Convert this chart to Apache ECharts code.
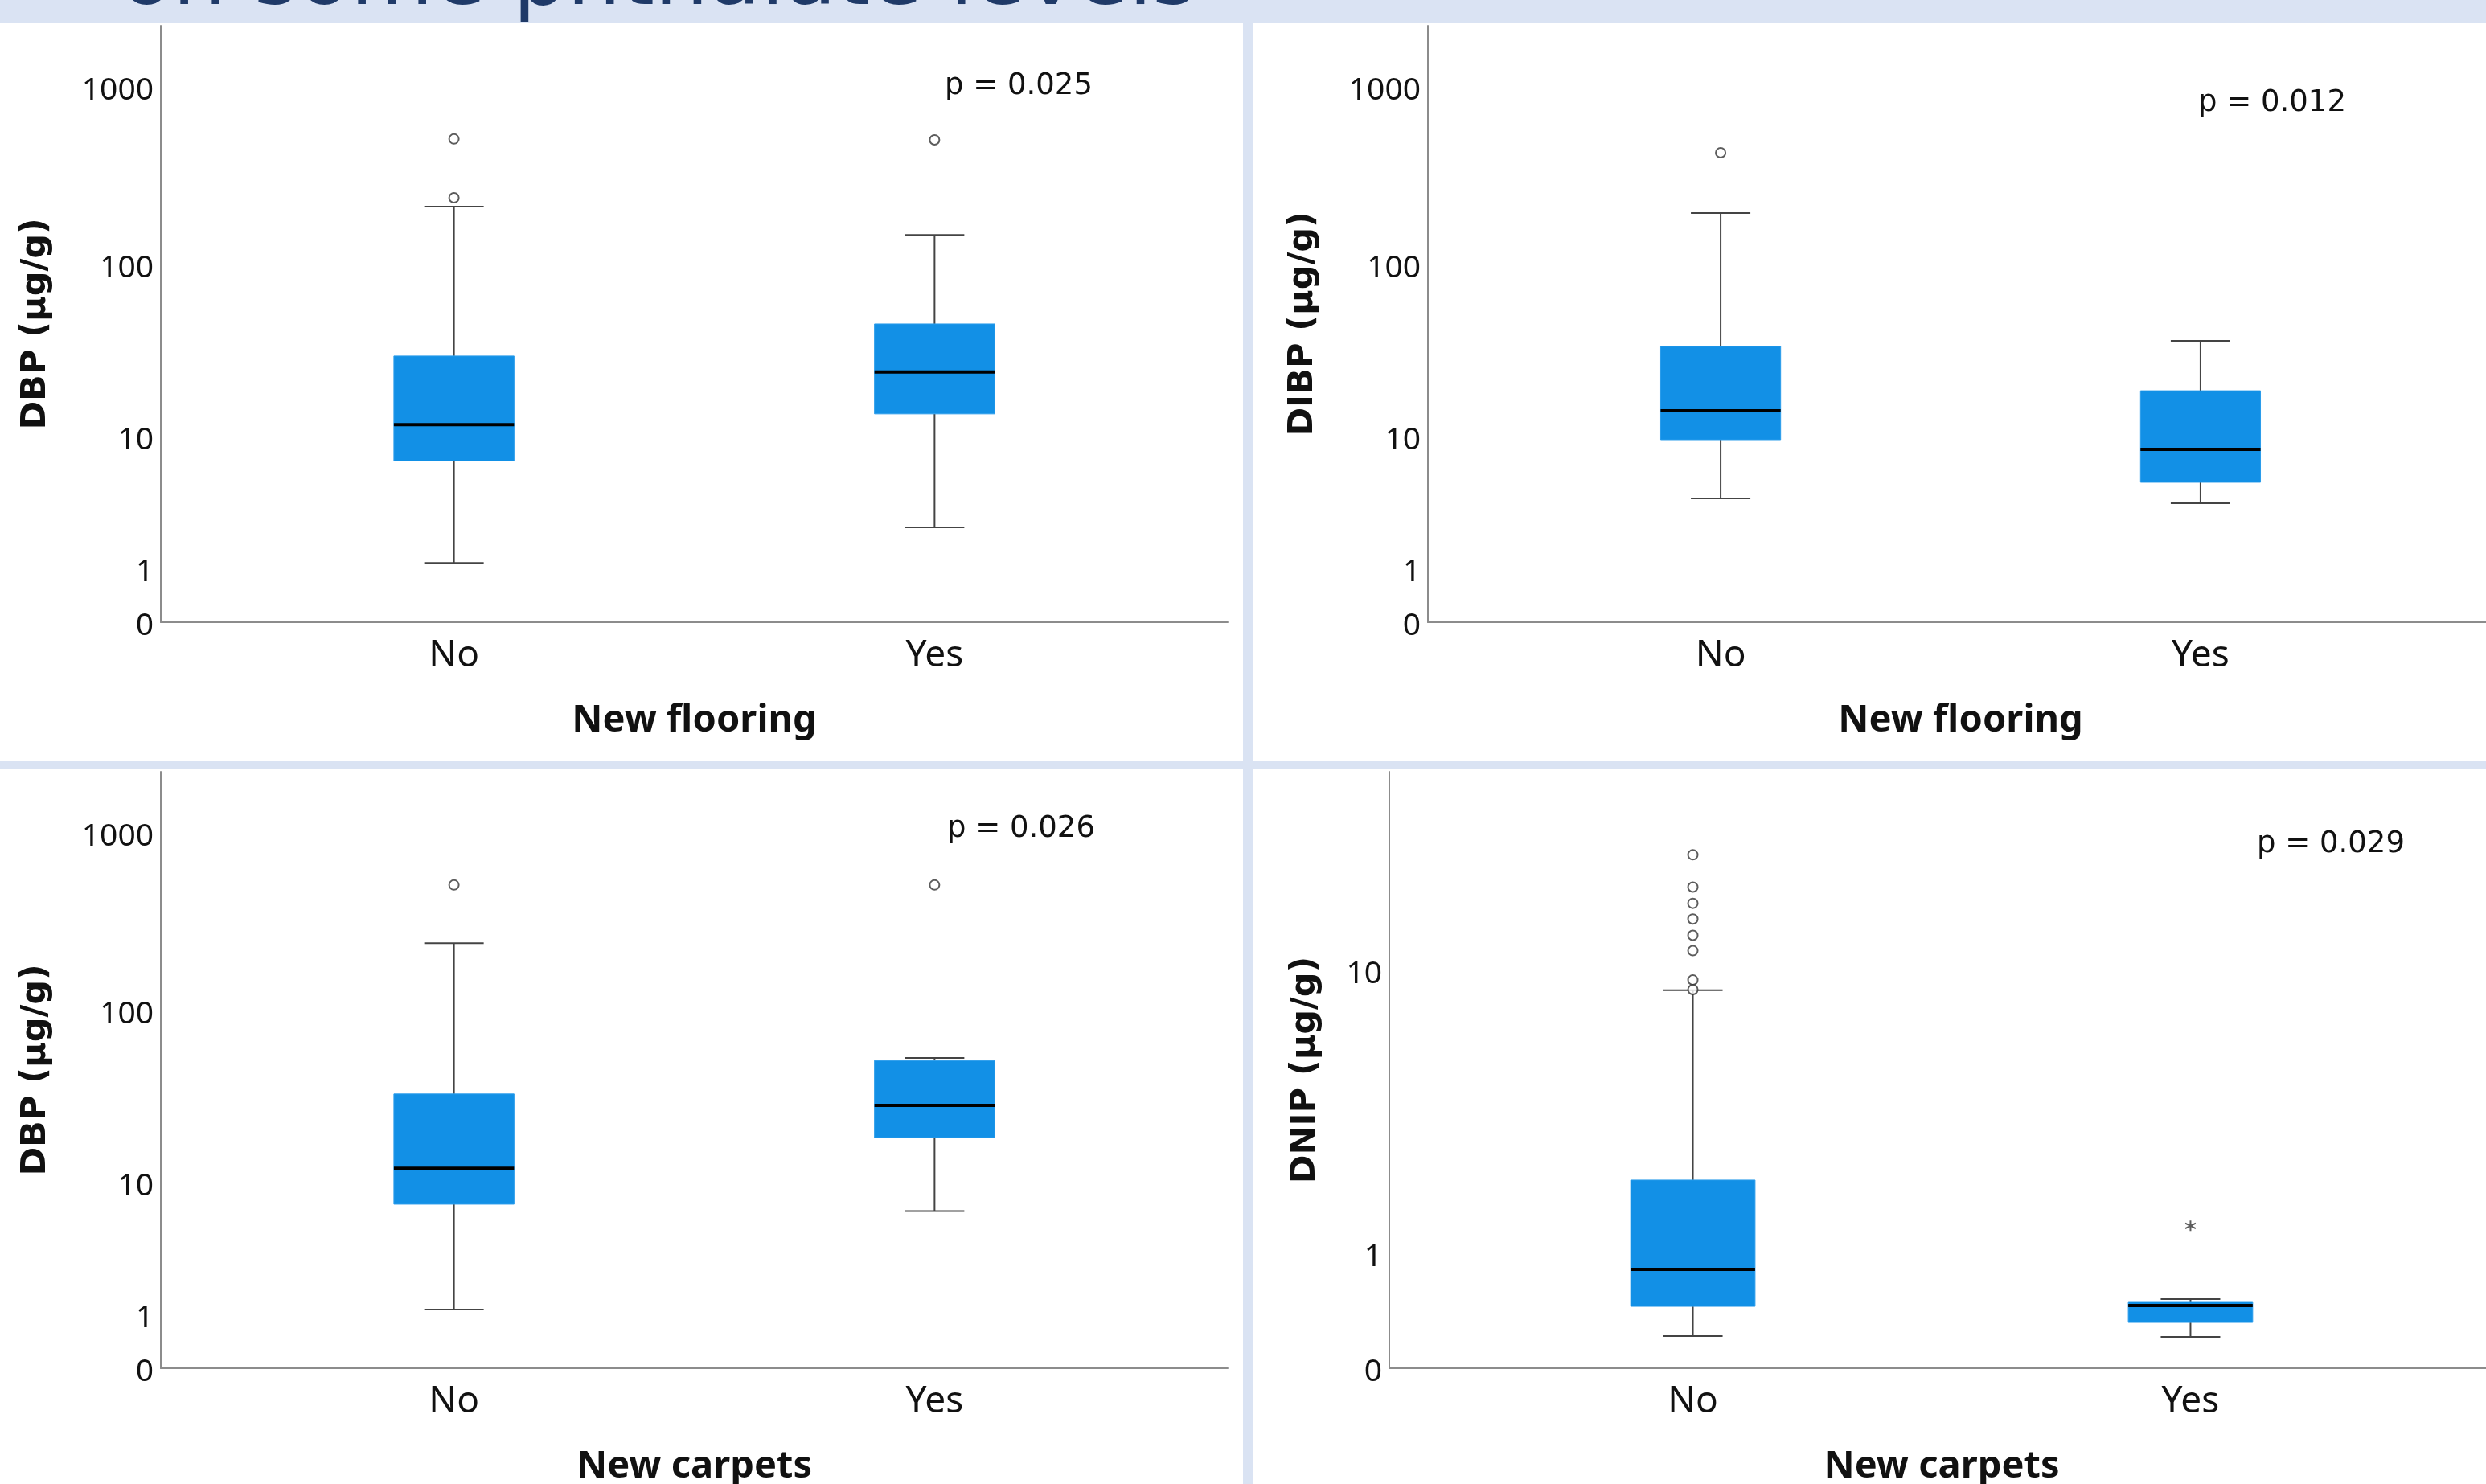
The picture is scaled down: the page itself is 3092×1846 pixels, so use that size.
<!DOCTYPE html>
<html>
<head>
<meta charset="utf-8">
<script src="https://cdn.jsdelivr.net/npm/echarts@6/dist/echarts.min.js"></script>
<style>
html, body { margin: 0; padding: 0; background: #dae3f3; }
#chart { width: 3092px; height: 1846px; }
</style>
</head>
<body>
<div id="chart"></div>
<script>
// ---------- data (µg/g) ----------
const categories = ['No', 'Yes'];
const categoryPositions = [1, 2];
const yTicksWide = [0, 1, 10, 100, 1000];
const yTicksDNIP = [0, 1, 10];
const titleText = 'on some phthalate levels';
const pValues = ['p = 0.025', 'p = 0.012', 'p = 0.026', 'p = 0.029'];
const yNames = ['DBP (µg/g)', 'DIBP (µg/g)', 'DBP (µg/g)', 'DNIP (µg/g)'];
const xNames = ['New flooring', 'New flooring', 'New carpets', 'New carpets'];

// [min whisker, Q1, median, Q3, max whisker] for No, Yes
const dbpFlooring = [[1.15, 7.0, 11.8, 30.0, 212], [2.4, 13.7, 24.2, 45.9, 147]];
const dbpFlooringOutliers = [[509, 238], [503]];
const dibpFlooring = [[3.94, 9.53, 14.3, 34.1, 195], [3.64, 5.08, 8.3, 18.8, 36.7]];
const dibpFlooringOutliers = [[426], []];
const dbpCarpets = [[1.13, 7.3, 12.2, 33.4, 240], [6.6, 18.6, 28.7, 52.0, 53.8]];
const dbpCarpetsOutliers = [[509], [509]];
const dnipCarpets = [[0.214, 0.452, 0.815, 2.11, 8.77], [0.208, 0.318, 0.459, 0.495, 0.517]];
const dnipCarpetsOutliers = [[21.1, 17.2, 15.5, 14.0, 12.6, 11.4, 9.39, 8.81], []];
const dnipCarpetsExtremes = [[], [1.36]];

// ---------- helpers ----------
const t = v => Math.log10(v + 1);          // log10(x+1) scale used by the reference
const inv = l => Math.round(Math.pow(10, l) - 1);

const panels = [
  { stats: dbpFlooring, out: dbpFlooringOutliers, ext: [[], []], ticks: yTicksWide, yMax: 3.342,
    grid: { left: 200, top: 32, width: 1327, height: 742 }, nameGap: 134,
    p: { x: 1175, y: 107 } },
  { stats: dibpFlooring, out: dibpFlooringOutliers, ext: [[], []], ticks: yTicksWide, yMax: 3.342,
    grid: { left: 1776, top: 32, width: 1325, height: 742 }, nameGap: 134,
    p: { x: 2734, y: 128 } },
  { stats: dbpCarpets, out: dbpCarpetsOutliers, ext: [[], []], ticks: yTicksWide, yMax: 3.342,
    grid: { left: 200, top: 960, width: 1327, height: 742 }, nameGap: 134,
    p: { x: 1178, y: 1031 } },
  { stats: dnipCarpets, out: dnipCarpetsOutliers, ext: dnipCarpetsExtremes, ticks: yTicksDNIP, yMax: 1.562,
    grid: { left: 1728, top: 960, width: 1374, height: 742 }, nameGap: 83,
    p: { x: 2807, y: 1050 } }
];

function renderBox(params, api) {
  const x = api.value(0);
  const lo = api.coord([x, api.value(1)]);
  const q1 = api.coord([x, api.value(2)]);
  const md = api.coord([x, api.value(3)]);
  const q3 = api.coord([x, api.value(4)]);
  const hi = api.coord([x, api.value(5)]);
  const bw = api.size([0.25, 0])[0];
  const cx = lo[0];
  const cap = 37;
  const ws = { stroke: '#444', lineWidth: 2 };
  return {
    type: 'group',
    children: [
      { type: 'line', shape: { x1: cx, y1: hi[1], x2: cx, y2: q3[1] }, style: ws },
      { type: 'line', shape: { x1: cx, y1: q1[1], x2: cx, y2: lo[1] }, style: ws },
      { type: 'line', shape: { x1: cx - cap, y1: hi[1], x2: cx + cap, y2: hi[1] }, style: ws },
      { type: 'line', shape: { x1: cx - cap, y1: lo[1], x2: cx + cap, y2: lo[1] }, style: ws },
      { type: 'rect', shape: { x: cx - bw / 2, y: q3[1], width: bw, height: q1[1] - q3[1] },
        style: { fill: '#1290e6', stroke: '#2a9ceb', lineWidth: 1 } },
      { type: 'line', shape: { x1: cx - bw / 2, y1: md[1], x2: cx + bw / 2, y2: md[1] },
        style: { stroke: '#000', lineWidth: 4 } }
    ]
  };
}

const grids = [], xAxes = [], yAxes = [], series = [], graphics = [];

// cut-off slide title (drawn beneath the white panels)
graphics.push({ type: 'text', z: -150, silent: true, x: 150, y: -23,
  style: { text: titleText, fontSize: 106, fontFamily: 'DejaVu Sans', fill: '#1f3a68',
    align: 'left', verticalAlign: 'middle' } });
// white panels
[[0, 28, 1546, 919], [1558, 28, 1534, 919], [0, 956, 1546, 890], [1558, 956, 1534, 890]].forEach(r => {
  graphics.push({ type: 'rect', z: -100, silent: true,
    shape: { x: r[0], y: r[1], width: r[2], height: r[3] }, style: { fill: '#ffffff' } });
});

panels.forEach((pn, i) => {
  grids.push(Object.assign({ outerBoundsMode: 'none', containLabel: false }, pn.grid));
  xAxes.push({
    type: 'value', gridIndex: i, min: 0.39, max: 2.61,
    name: xNames[i], nameLocation: 'middle', nameGap: 99,
    nameTextStyle: { fontFamily: 'Noto Sans', fontWeight: 'bold', fontSize: 47, color: '#111' },
    axisLine: { show: true, onZero: false, lineStyle: { color: '#8c8c8c', width: 2 } },
    axisTick: { show: false },
    splitLine: { show: false },
    axisLabel: {
      customValues: categoryPositions,
      formatter: v => categories[Math.round(v) - 1],
      fontFamily: 'Noto Sans', fontSize: 46, color: '#111', margin: 19
    }
  });
  yAxes.push({
    type: 'value', gridIndex: i, min: 0, max: pn.yMax,
    name: yNames[i], nameLocation: 'middle', nameGap: pn.nameGap, nameRotate: 90,
    nameTextStyle: { fontFamily: 'DejaVu Sans', fontWeight: 'bold', fontSize: 43, color: '#111' },
    axisLine: { show: true, lineStyle: { color: '#8c8c8c', width: 2 } },
    axisTick: { show: false },
    splitLine: { show: false },
    axisLabel: {
      customValues: pn.ticks.map(t),
      formatter: v => String(inv(v)),
      fontFamily: 'Noto Sans', fontSize: 39, color: '#111', margin: 9,
      verticalAlign: 'top', lineHeight: 10
    }
  });
  series.push({
    type: 'custom', xAxisIndex: i, yAxisIndex: i, renderItem: renderBox,
    encode: { x: 0, y: [1, 2, 3, 4, 5] }, clip: false,
    data: pn.stats.map((s, k) => [categoryPositions[k]].concat(s.map(t)))
  });
  const outPts = [];
  pn.out.forEach((arr, k) => arr.forEach(v => outPts.push([categoryPositions[k], t(v)])));
  series.push({
    type: 'scatter', xAxisIndex: i, yAxisIndex: i, symbol: 'circle', symbolSize: 12, z: 5,
    itemStyle: { color: '#ffffff', borderColor: '#333', borderWidth: 2 },
    data: outPts
  });
  const extPts = [];
  pn.ext.forEach((arr, k) => arr.forEach(v => extPts.push([categoryPositions[k], t(v)])));
  if (extPts.length) {
    series.push({
      type: 'scatter', xAxisIndex: i, yAxisIndex: i, z: 5,
      symbol: 'path://M5,0V10M0.67,2.5L9.33,7.5M0.67,7.5L9.33,2.5', symbolSize: 13,
      itemStyle: { color: 'none', borderColor: '#333', borderWidth: 2 },
      data: extPts
    });
  }
  graphics.push({ type: 'text', z: 10, silent: true, x: pn.p.x, y: pn.p.y,
    style: { text: pValues[i], fontSize: 37, fontFamily: 'DejaVu Sans', fill: '#111',
      align: 'left', verticalAlign: 'middle' } });
});

const chart = echarts.init(document.getElementById('chart'), null, { renderer: 'canvas' });
chart.setOption({
  backgroundColor: '#dae3f3',
  animation: false,
  grid: grids, xAxis: xAxes, yAxis: yAxes, series: series, graphic: graphics
});
</script>
</body>
</html>
